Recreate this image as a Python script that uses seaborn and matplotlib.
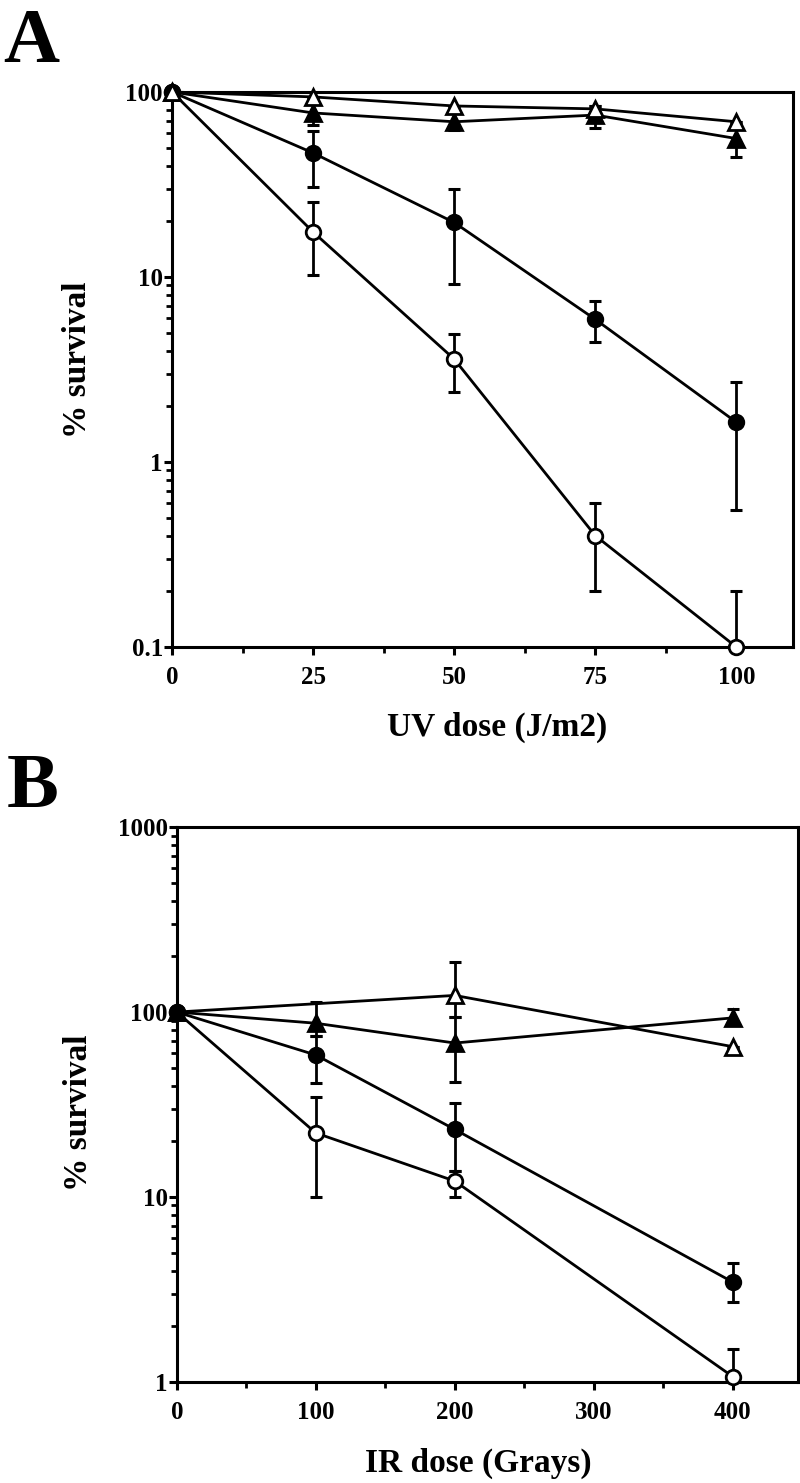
import numpy as np
import matplotlib
matplotlib.use("Agg")
import matplotlib.pyplot as plt
from matplotlib.ticker import MultipleLocator, LogLocator, NullFormatter
import seaborn as sns

sns.set_style("ticks")
plt.rcParams['font.family'] = ['Liberation Serif', 'DejaVu Serif']
plt.rcParams['font.weight'] = 'bold'
plt.rcParams['text.color'] = 'black'
plt.rcParams['axes.labelcolor'] = 'black'
plt.rcParams['xtick.color'] = 'black'
plt.rcParams['ytick.color'] = 'black'

# ---------------- panel A : UV ----------------
uv_dose = [0, 25, 50, 75, 100]
uv_open_tri = [100, 94, 84, 81, 69]
uv_open_tri_lo = [100, 94, 84, 78, 69]
uv_open_tri_hi = [100, 94, 84, 84, 69]
uv_fill_tri = [100, 77, 69, 75, 56]
uv_fill_tri_lo = [100, 66, 62, 64, 44.6]
uv_fill_tri_hi = [100, 86, 77, 84, 66]
uv_fill_circ = [100, 46.8, 19.7, 5.9, 1.64]
uv_fill_circ_lo = [100, 30.8, 9.2, 4.47, 0.55]
uv_fill_circ_hi = [100, 61.5, 30, 7.4, 2.72]
uv_open_circ = [100, 17.5, 3.6, 0.40, 0.1]
uv_open_circ_lo = [100, 10.2, 2.4, 0.2, 0.1]
uv_open_circ_hi = [100, 25.3, 4.9, 0.6, 0.2]

# ---------------- panel B : IR ----------------
ir_dose = [0, 100, 200, 400]
ir_open_tri_dose = [0, 200, 400]
ir_open_tri = [100, 123, 65]
ir_open_tri_lo = [100, 94, 65]
ir_open_tri_hi = [100, 187, 65]
ir_fill_tri = [100, 87, 68, 93]
ir_fill_tri_lo = [100, 74, 41.7, 86.5]
ir_fill_tri_hi = [100, 113, 94, 104]
ir_fill_circ = [100, 58.6, 23.2, 3.47]
ir_fill_circ_lo = [100, 41.3, 13.8, 2.7]
ir_fill_circ_hi = [100, 74.6, 32.4, 4.4]
ir_open_circ = [100, 22.2, 12.2, 1.07]
ir_open_circ_lo = [100, 10, 10, 1.0]
ir_open_circ_hi = [100, 34.7, 13.8, 1.5]

fig = plt.figure(figsize=(8, 14.83), dpi=100)
axA = fig.add_axes([0.215, 0.5637, 0.776, 0.3743])
axB = fig.add_axes([0.221, 0.0681, 0.7765, 0.3742])


def draw_series(ax, x, y, lo, hi, marker, filled, z):
    y = np.array(y, dtype=float)
    yerr = [y - np.array(lo), np.array(hi) - y]
    ax.errorbar(x, y, yerr=yerr, fmt='none', ecolor='black', elinewidth=2,
                capsize=4.5, capthick=2.2, zorder=z, clip_on=False)
    sns.lineplot(x=x, y=y, ax=ax, color='black', linewidth=2, marker=marker,
                 markersize=10.5 if marker == 'o' else 11.5,
                 markerfacecolor='black' if filled else 'white',
                 markeredgecolor='black', markeredgewidth=2,
                 errorbar=None, sort=False, zorder=z + 0.5, clip_on=False)


def style_axis(ax, xmax, xmajor, xminor, ymin, ymax):
    ax.set_yscale('log')
    ax.set_xlim(0, xmax)
    ax.set_ylim(ymin, ymax)
    ax.xaxis.set_major_locator(MultipleLocator(xmajor))
    ax.xaxis.set_minor_locator(MultipleLocator(xminor))
    ax.yaxis.set_major_locator(LogLocator(base=10))
    ax.yaxis.set_minor_locator(LogLocator(base=10, subs=np.arange(2, 10)))
    ax.yaxis.set_minor_formatter(NullFormatter())
    ax.yaxis.set_major_formatter(plt.FuncFormatter(lambda v, p: f"{v:g}"))
    for s in ax.spines.values():
        s.set_linewidth(2.2)
        s.set_color('black')
    ax.tick_params(axis='both', which='major', direction='out', length=5.5, width=2.2,
                   labelsize=18, color='black', labelcolor='black')
    ax.tick_params(axis='both', which='minor', direction='out', length=4, width=2)
    ax.tick_params(axis='y', which='major', pad=1)
    ax.tick_params(axis='x', which='major', pad=8)
    for lab in ax.get_xticklabels() + ax.get_yticklabels():
        lab.set_fontweight('bold')
    ax.grid(False)


# panel A
draw_series(axA, uv_dose, uv_open_circ, uv_open_circ_lo, uv_open_circ_hi, 'o', False, 3)
draw_series(axA, uv_dose, uv_fill_circ, uv_fill_circ_lo, uv_fill_circ_hi, 'o', True, 4)
draw_series(axA, uv_dose, uv_fill_tri, uv_fill_tri_lo, uv_fill_tri_hi, '^', True, 5)
draw_series(axA, uv_dose, uv_open_tri, uv_open_tri_lo, uv_open_tri_hi, '^', False, 6)
style_axis(axA, 110, 25, 12.5, 0.1, 100)
axA.set_xlabel('UV dose (J/m2)', fontsize=24, fontweight='bold')
axA.xaxis.label.set_va('center')
axA.xaxis.set_label_coords(0.523, -0.144)
axA.set_ylabel('% survival', fontsize=24, fontweight='bold')
axA.yaxis.label.set_va('center')
axA.yaxis.set_label_coords(-0.153, 0.517)

# panel B
draw_series(axB, ir_dose, ir_open_circ, ir_open_circ_lo, ir_open_circ_hi, 'o', False, 3)
draw_series(axB, ir_open_tri_dose, ir_open_tri, ir_open_tri_lo, ir_open_tri_hi, '^', False, 4)
draw_series(axB, ir_dose, ir_fill_tri, ir_fill_tri_lo, ir_fill_tri_hi, '^', True, 5)
draw_series(axB, ir_dose, ir_fill_circ, ir_fill_circ_lo, ir_fill_circ_hi, 'o', True, 6)
style_axis(axB, 447, 100, 50, 1, 1000)
axB.set_xlabel('IR dose (Grays)', fontsize=24, fontweight='bold')
axB.xaxis.label.set_va('center')
axB.xaxis.set_label_coords(0.485, -0.146)
axB.set_ylabel('% survival', fontsize=24, fontweight='bold')
axB.yaxis.label.set_va('center')
axB.yaxis.set_label_coords(-0.158, 0.485)

fig.text(0.004, 0.958, 'A', fontsize=56, fontweight='bold', ha='left', va='baseline')
fig.text(0.008, 0.456, 'B', fontsize=56, fontweight='bold', ha='left', va='baseline')

fig.savefig('out.png', dpi=100, facecolor='white')
